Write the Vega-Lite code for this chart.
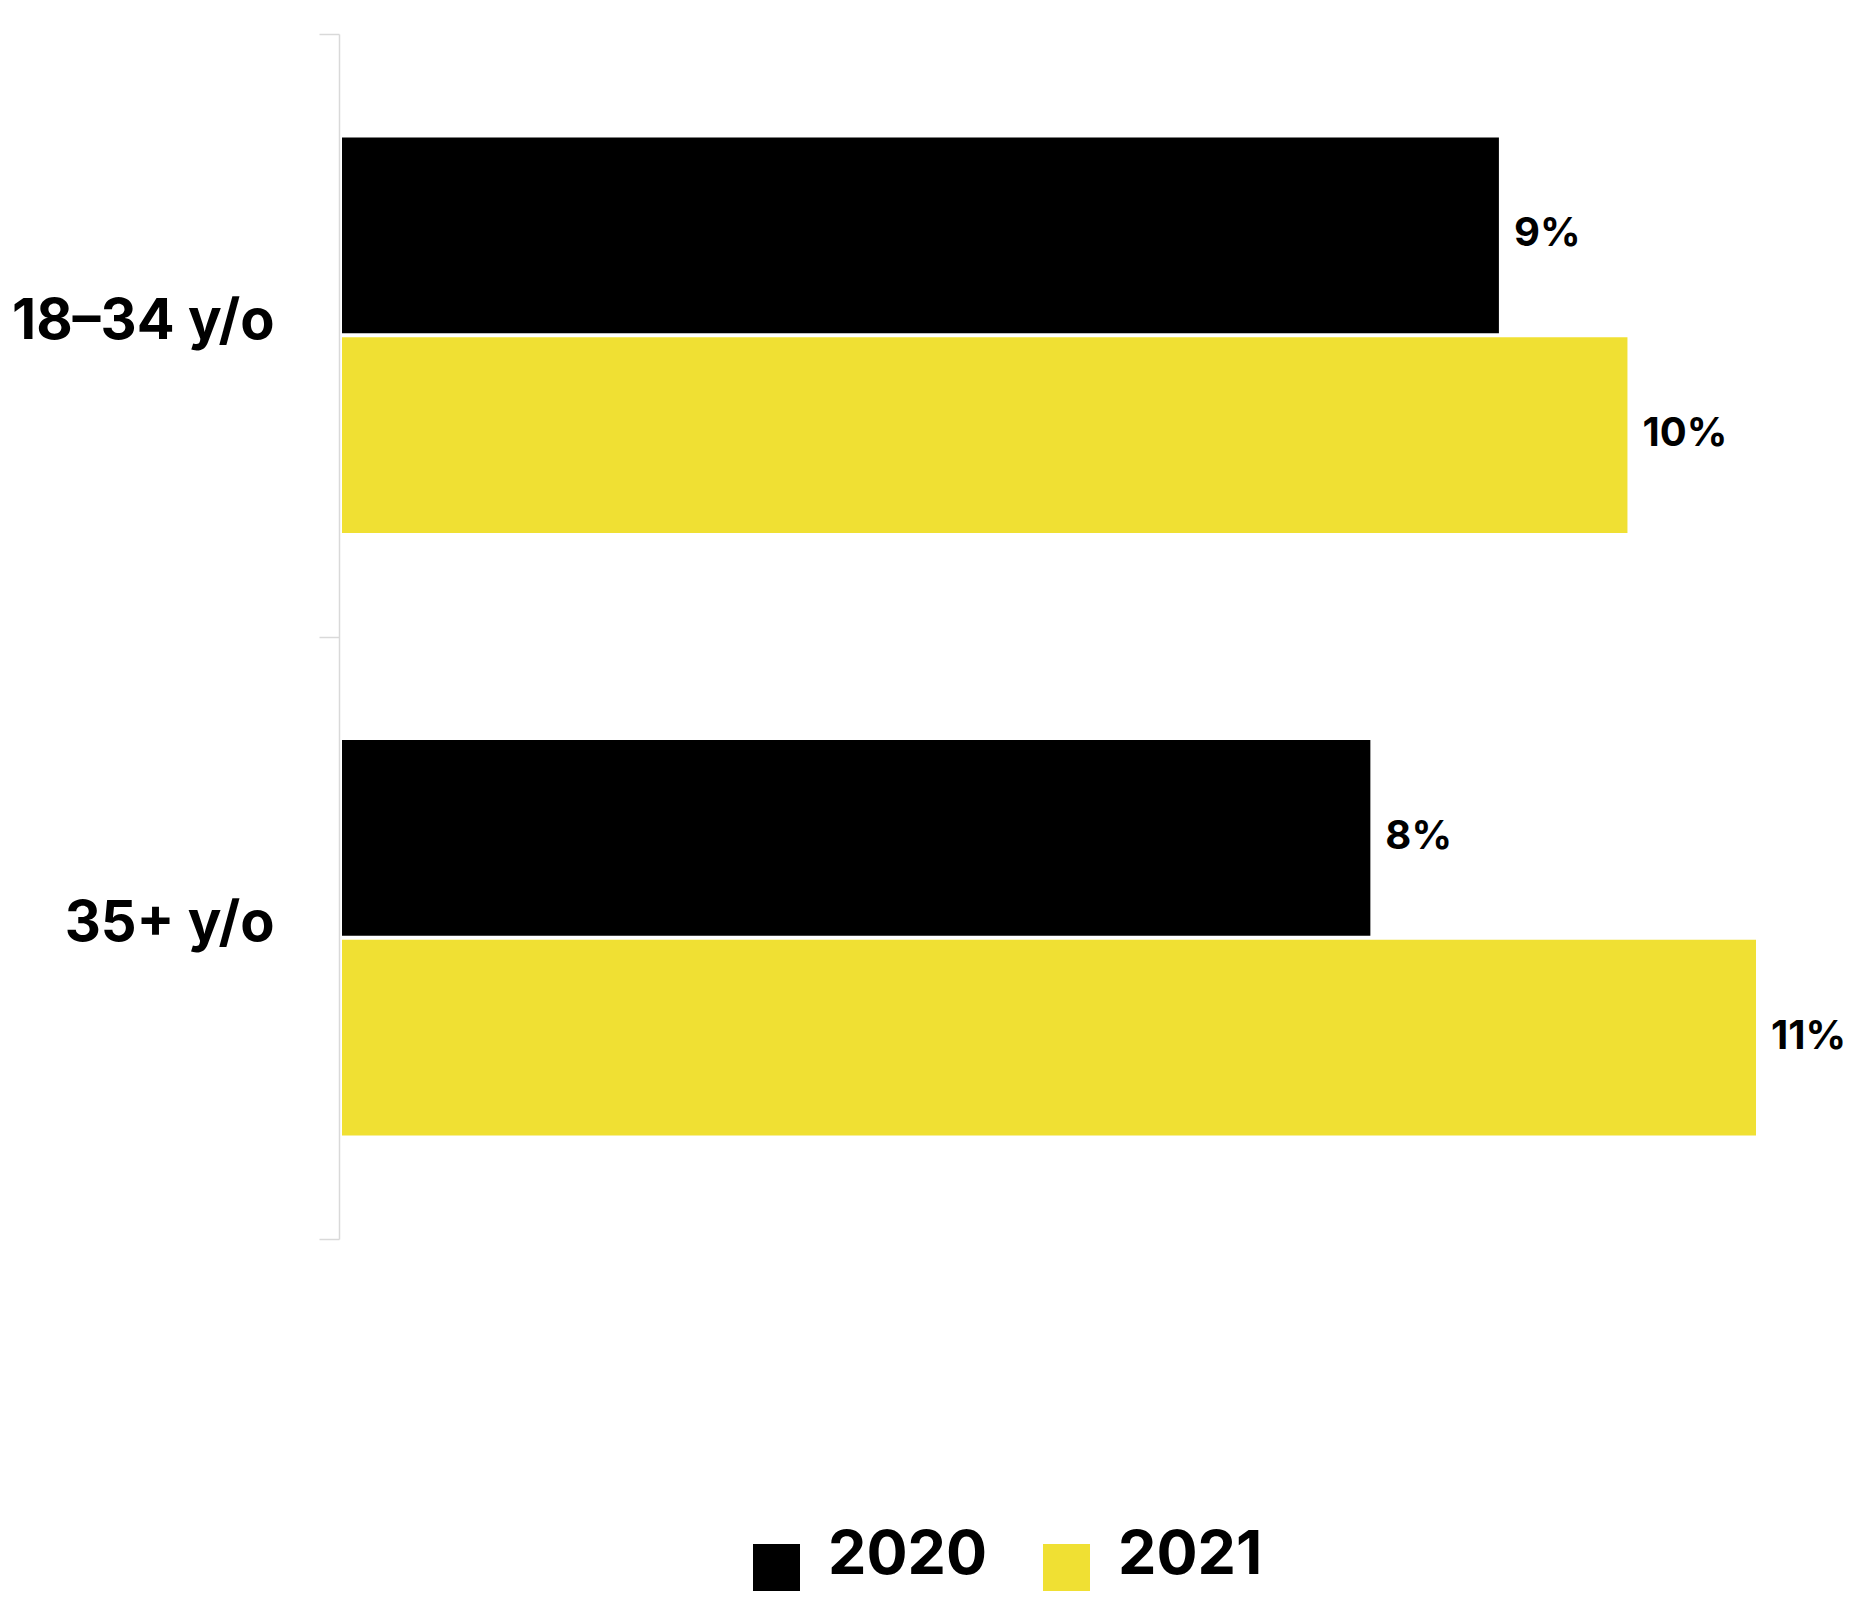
{
  "$schema": "https://vega.github.io/schema/vega-lite/v6.json",
  "autosize": {"type": "none"},
  "padding": {"left": 342, "top": 34, "right": 94, "bottom": 359},
  "width": 1414,
  "height": 1205,
  "background": "white",
  "config": {"view": {"stroke": null}, "font": "Inter"},
  "data": {"values": [
    {"age": "18–34 y/o", "year": "2020", "share": 0.09},
    {"age": "18–34 y/o", "year": "2021", "share": 0.10},
    {"age": "35+ y/o", "year": "2020", "share": 0.08},
    {"age": "35+ y/o", "year": "2021", "share": 0.11}
  ]},
  "encoding": {
    "y": {
      "field": "age", "type": "nominal", "sort": null,
      "scale": {"paddingInner": 0, "paddingOuter": 0},
      "axis": {
        "title": null, "offset": 3, "tickBand": "extent", "tickSize": 20,
        "tickColor": "#d9d9d9", "tickWidth": 1.5, "domainColor": "#d9d9d9", "domainWidth": 1.5,
        "labelFont": "Inter", "labelFontWeight": 700, "labelFontSize": 56, "labelColor": "#000000",
        "labelPadding": 45, "labelBaseline": "alphabetic", "labelOffset": 3, "labelLimit": 400
      }
    },
    "yOffset": {"field": "year", "type": "nominal", "scale": {"paddingInner": 0.02, "paddingOuter": 0.519}},
    "x": {"field": "share", "type": "quantitative", "scale": {"domain": [0, 0.11], "nice": false}, "axis": null}
  },
  "layer": [
    {
      "mark": {"type": "bar"},
      "encoding": {
        "color": {
          "field": "year", "type": "nominal",
          "scale": {"domain": ["2020", "2021"], "range": ["#000000", "#f0e033"]},
          "legend": {
            "orient": "none", "legendX": 404, "legendY": 1503, "direction": "horizontal",
            "title": null, "symbolType": "square", "symbolSize": 2209,
            "symbolStrokeWidth": 0, "symbolOpacity": 1,
            "labelFont": "Inter", "labelFontWeight": 700, "labelFontSize": 61, "labelColor": "#000000",
            "labelBaseline": "alphabetic", "labelOffset": 21, "columnPadding": 48, "padding": 0, "labelLimit": 400,
            "encode": {"labels": {"update": {"dy": {"value": 6}}}}
          }
        }
      }
    },
    {
      "mark": {"type": "text", "align": "left", "baseline": "alphabetic", "dx": 15, "dy": 11,
        "font": "Inter", "fontWeight": 700, "fontSize": 40, "color": "#000000"},
      "encoding": {"text": {"field": "share", "type": "quantitative", "format": ".0%"}}
    }
  ]
}
